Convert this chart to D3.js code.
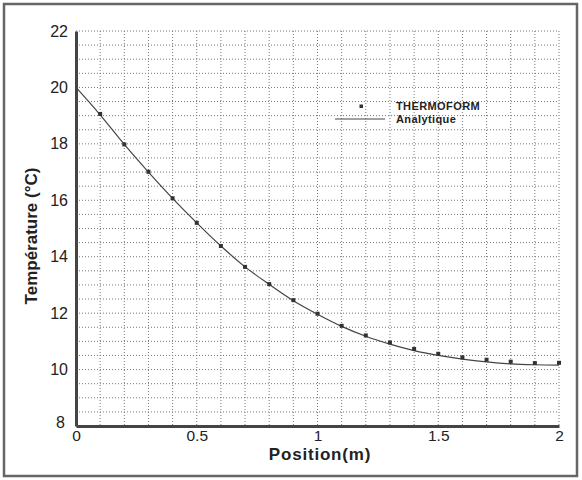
<!DOCTYPE html>
<html><head><meta charset="utf-8">
<script src="https://cdn.jsdelivr.net/npm/d3@7"></script>
<style>
html,body{margin:0;padding:0;background:#fff;}
svg{display:block;}
text{font-family:"Liberation Sans",Arial,sans-serif;fill:#222;}
</style></head>
<body>
<svg id="c" width="582" height="480"></svg>
<script>
// Data
const pointX = [0.1,0.2,0.3,0.4,0.5,0.6,0.7,0.8,0.9,1.0,1.1,1.2,1.3,1.4,1.5,1.6,1.7,1.8,1.9,2.0];
const thermoform = [19.06,17.98,17.01,16.07,15.20,14.38,13.64,13.03,12.46,11.98,11.55,11.21,10.96,10.73,10.56,10.43,10.35,10.28,10.23,10.24];
const lineX = [0,0.1,0.2,0.3,0.4,0.5,0.6,0.7,0.8,0.9,1.0,1.1,1.2,1.3,1.4,1.5,1.6,1.7,1.8,1.9,2.0];
const analytique = [20,19.03,17.98,17.0,16.07,15.2,14.38,13.64,13.02,12.44,11.96,11.53,11.18,10.9,10.67,10.5,10.37,10.27,10.2,10.17,10.16];
const xTicks = [0,0.5,1,1.5,2];
const xTickLabels = ["0","0.5","1","1.5","2"];
const yTicks = [8,10,12,14,16,18,20,22];
const seriesNames = ["THERMOFORM","Analytique"];
const xTitle = "Position(m)";
const yTitle = "Température (°C)";

const svg = d3.select("#c");
const L=76, R=559, T=31, B=426;
const x = d3.scaleLinear().domain([0,2]).range([L,R]);
const y = d3.scaleLinear().domain([8,22]).range([B,T]);

// outer frame
svg.append("rect").attr("x",4).attr("y",4).attr("width",573).attr("height",472)
  .attr("fill","#fff").attr("stroke","#666").attr("stroke-width",2.5);

// grid
const g = svg.append("g");
g.selectAll("line.v").data(d3.range(1,21).map(i=>i/10)).join("line")
  .attr("x1",d=>x(d)).attr("x2",d=>x(d)).attr("y1",T).attr("y2",B)
  .attr("stroke","#777").attr("stroke-width",1).attr("stroke-dasharray","1,2");
g.selectAll("line.h").data(d3.range(0,28).map(i=>8.5+i*0.5)).join("line")
  .attr("x1",L).attr("x2",R).attr("y1",d=>y(d)).attr("y2",d=>y(d))
  .attr("stroke","#777").attr("stroke-width",1).attr("stroke-dasharray","1,2");

// axes
const xAxis = d3.axisBottom(x).tickValues(xTicks).tickFormat((d,i)=>xTickLabels[i]).tickSize(0).tickPadding(4);
const xa = svg.append("g").attr("transform",`translate(0,${B})`).call(xAxis);
xa.select(".domain").attr("stroke","#444").attr("stroke-width",3);
xa.selectAll("text").attr("font-size",15.5).attr("fill","#222").attr("font-family","Liberation Sans, Arial, sans-serif");

const yAxis = d3.axisLeft(y).tickValues(yTicks).tickSize(0).tickPadding(8);
const ya = svg.append("g").attr("transform",`translate(${L},0)`).call(yAxis);
ya.select(".domain").attr("stroke","#444").attr("stroke-width",3);
ya.selectAll("text").attr("font-size",16).attr("fill","#222").attr("font-family","Liberation Sans, Arial, sans-serif");
ya.selectAll(".tick").filter(d=>d===8).select("text").attr("dy","0.1em").attr("dx","-3");

// line
const line = d3.line().x((d,i)=>x(lineX[i])).y(d=>y(d)).curve(d3.curveMonotoneX);
svg.append("path").datum(analytique).attr("d",line).attr("fill","none")
  .attr("stroke","#444").attr("stroke-width",1.2);

// points
svg.selectAll("rect.pt").data(thermoform).join("rect")
  .attr("x",(d,i)=>x(pointX[i])-2).attr("y",d=>y(d)-2)
  .attr("width",4).attr("height",4).attr("fill","#333");

// legend
svg.append("rect").attr("x",359.5).attr("y",104.5).attr("width",3.5).attr("height",3.5).attr("fill","#333");
svg.append("line").attr("x1",335).attr("x2",385).attr("y1",119).attr("y2",119).attr("stroke","#444").attr("stroke-width",1.2);
svg.append("text").attr("x",396).attr("y",110).attr("font-size",11).attr("font-weight","bold").attr("letter-spacing",0.4).text(seriesNames[0]);
svg.append("text").attr("x",396).attr("y",123).attr("font-size",11).attr("font-weight","bold").attr("letter-spacing",0.4).text(seriesNames[1]);

// titles
svg.append("text").attr("x",320).attr("y",460).attr("text-anchor","middle")
  .attr("font-size",17).attr("font-weight","bold").attr("letter-spacing",0.8).text(xTitle);
svg.append("text").attr("transform","translate(37,236) rotate(-90)").attr("text-anchor","middle")
  .attr("font-size",17).attr("font-weight","bold").text(yTitle);
</script>
</body></html>
